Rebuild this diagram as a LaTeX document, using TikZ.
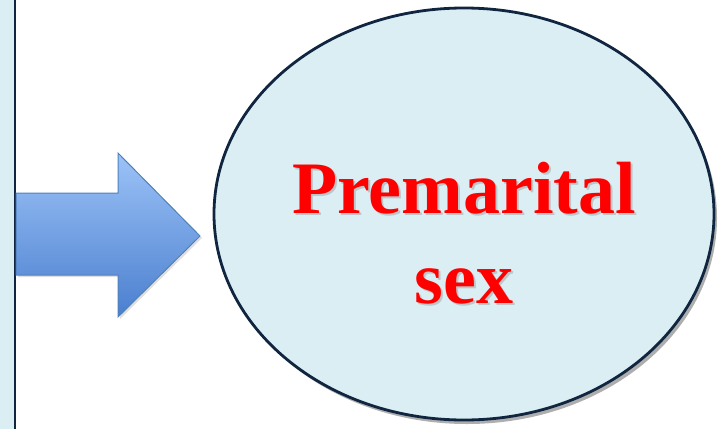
\documentclass[tikz,border=0pt]{standalone}
\usepackage{fontspec}
\setmainfont{Liberation Serif}
\usetikzlibrary{shapes.geometric, shadows}
\definecolor{paleblue}{HTML}{DAEEF3}
\definecolor{navyline}{HTML}{10253F}
\definecolor{arrowtop}{HTML}{9DC3F7}
\definecolor{arrowbot}{HTML}{4A7FCF}
\definecolor{arrowline}{HTML}{4F81BD}
\tikzset{
    bubble/.style={ellipse, draw=navyline, line width=2.8pt, fill=paleblue,
        minimum width=500pt, minimum height=412pt,
        drop shadow={shadow xshift=3pt, shadow yshift=-4pt, fill=black!45, opacity=0.7}},
    bigword/.style={font=\fontsize{74}{90}\selectfont\bfseries, text=red, inner sep=0pt},
    shadeword/.style={bigword, text=black!40, opacity=0.45}
}

\begin{document}
\begin{tikzpicture}[x=1pt,y=-1pt]
        \useasboundingbox (0,0) rectangle (722,428);
        % Left panel
        \fill[paleblue] (-5,-5) rectangle (15,433);
        \draw[navyline, line width=2pt] (15,-5) -- (15,433);
        % Block arrow
        \draw[arrowline, line width=1pt, top color=arrowtop, bottom color=arrowbot,
            drop shadow={shadow xshift=2pt, shadow yshift=-2pt, fill=black!25, opacity=0.5}]
            (16,193) -- (118,193) -- (118,153) -- (200,236) -- (118,317)
            -- (118,275) -- (16,275) -- cycle;
        % Ellipse
        \node[bubble] (topic) at (464,214) {};
        % Labels
        \node[shadeword, anchor=base] at (466,215.5) {Premarital};
        \node[shadeword, anchor=base] at (466,305.5) {sex};
        \node[bigword, anchor=base] (line1) at (464,213) {Premarital};
        \node[bigword, anchor=base] (line2) at (464,303) {sex};
    \end{tikzpicture}
\end{document}
